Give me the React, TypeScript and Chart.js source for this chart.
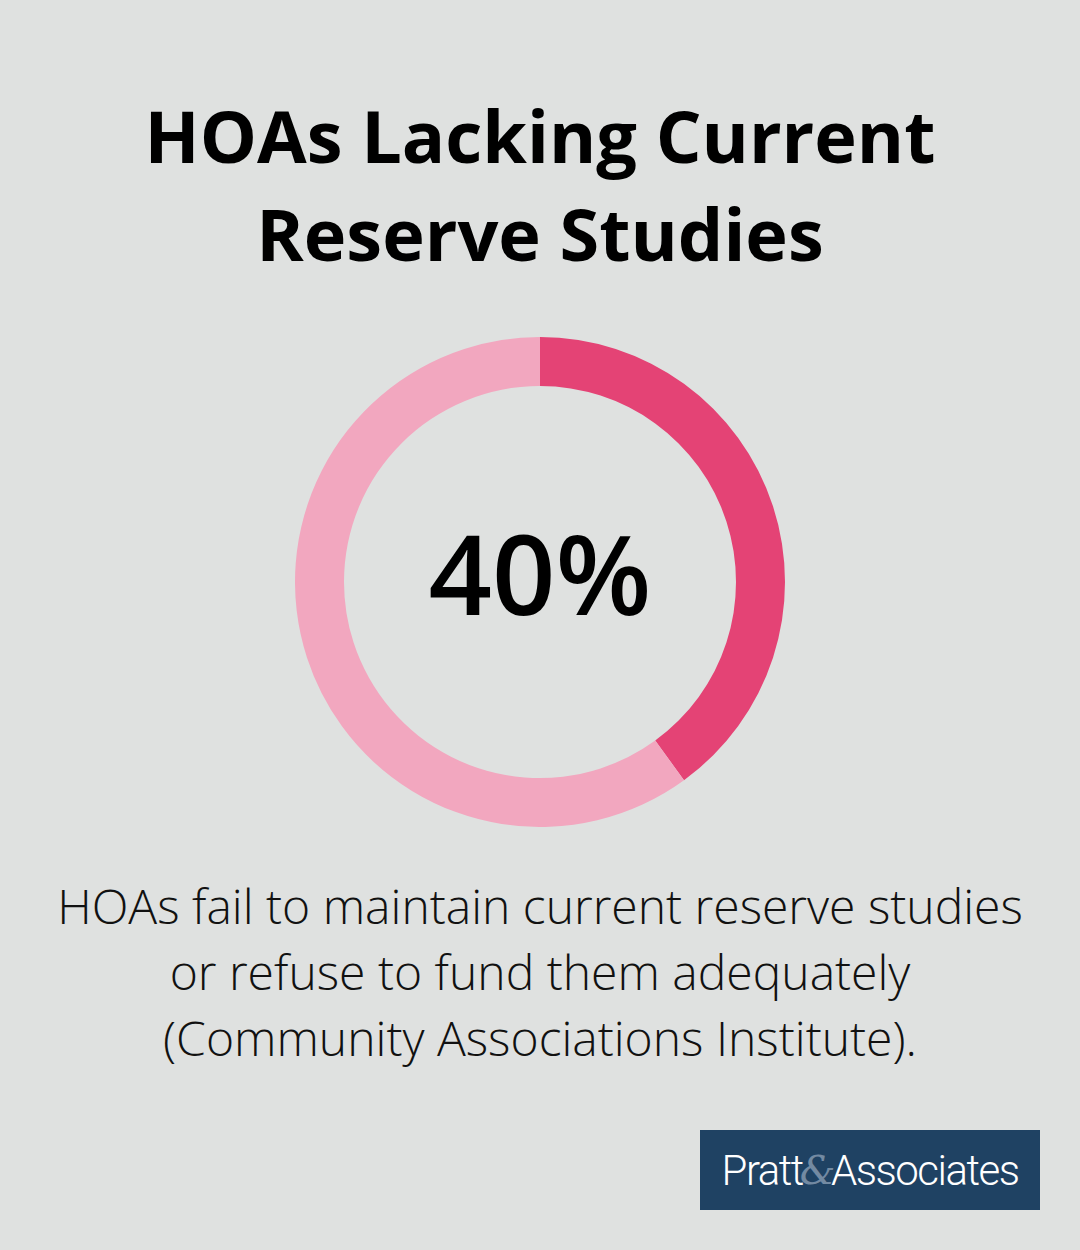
import React, { useEffect, useRef } from "react";
import { Chart, registerables } from "chart.js";

Chart.register(...registerables);

const categories = ["Lacking current reserve studies", "Other HOAs"];
const values = [40, 60];
const sliceColors = ["#e44375", "#f2a7bf"];
const titleLines = ["HOAs Lacking Current", "Reserve Studies"];
const centerLabel = "40%";
const descriptionLines = [
  "HOAs fail to maintain current reserve studies",
  "or refuse to fund them adequately",
  "(Community Associations Institute).",
];

export default function App() {
  const ref = useRef<HTMLCanvasElement | null>(null);

  useEffect(() => {
    document.body.style.margin = "0";
    const chart = new Chart(ref.current!, {
      type: "doughnut",
      data: {
        labels: categories,
        datasets: [
          {
            data: values,
            backgroundColor: sliceColors,
            borderWidth: 0,
          },
        ],
      },
      options: {
        animation: false,
        responsive: false,
        cutout: "80%",
        layout: { padding: 0 },
        plugins: { legend: { display: false }, tooltip: { enabled: false } },
      },
    });
    return () => chart.destroy();
  }, []);

  return (
    <div
      style={{
        position: "relative",
        width: 1080,
        height: 1250,
        background: "#dfe1e0",
        overflow: "hidden",
        fontFamily: "'Open Sans', sans-serif",
      }}
    >
      <div
        style={{
          position: "absolute",
          top: 86,
          left: 0,
          width: 1080,
          textAlign: "center",
          fontWeight: 700,
          fontSize: 72,
          lineHeight: "98px",
          color: "#000",
        }}
      >
        {titleLines.map((l, i) => (
          <div key={i}>{l}</div>
        ))}
      </div>
      <canvas
        ref={ref}
        width={490}
        height={490}
        style={{ position: "absolute", left: 295, top: 337, width: 490, height: 490 }}
      />
      <div
        style={{
          position: "absolute",
          top: 502,
          left: 0,
          width: 1080,
          textAlign: "center",
          fontWeight: 600,
          fontSize: 111,
          lineHeight: "140px",
          color: "#000",
        }}
      >
        {centerLabel}
      </div>
      <div
        style={{
          position: "absolute",
          top: 873,
          left: 0,
          width: 1080,
          textAlign: "center",
          fontWeight: 300,
          fontSize: 48,
          lineHeight: "66px",
          color: "#111",
        }}
      >
        {descriptionLines.map((l, i) => (
          <div key={i}>{l}</div>
        ))}
      </div>
      <div
        style={{
          position: "absolute",
          left: 700,
          top: 1130,
          width: 340,
          height: 80,
          background: "#1f4263",
          color: "#fff",
          display: "flex",
          alignItems: "center",
          justifyContent: "center",
          fontFamily: "'Roboto', sans-serif",
          fontWeight: 300,
          fontSize: 42,
          letterSpacing: -1.5,
        }}
      >
        <span>Pratt</span>
        <span
          style={{
            fontFamily: "'DejaVu Serif', serif",
            fontStyle: "italic",
            fontWeight: 300,
            color: "rgba(200,210,225,0.5)",
            fontSize: 40,
            margin: "0 -3px",
          }}
        >
          &amp;
        </span>
        <span>Associates</span>
      </div>
    </div>
  );
}
